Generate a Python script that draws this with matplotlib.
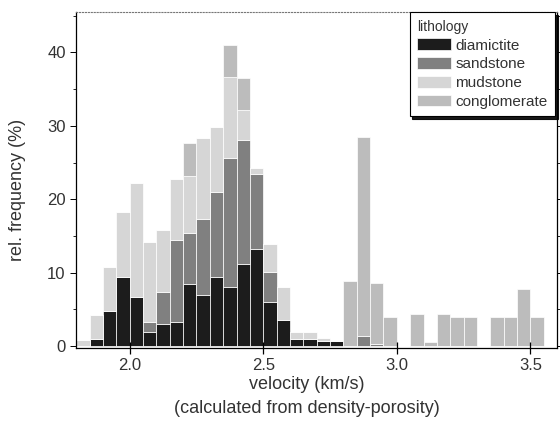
import matplotlib
matplotlib.use('Agg')
import matplotlib.pyplot as plt
import numpy as np
from matplotlib.ticker import MultipleLocator

plt.rcParams['font.family'] = ['Liberation Sans', 'DejaVu Sans']

# left edges of the 0.05 km/s velocity bins
bin_left = [1.80, 1.85, 1.90, 1.95, 2.00, 2.05, 2.10, 2.15, 2.20, 2.25,
            2.30, 2.35, 2.40, 2.45, 2.50, 2.55, 2.60, 2.65, 2.70, 2.75,
            2.80, 2.85, 2.90, 2.95, 3.00, 3.05, 3.10, 3.15, 3.20, 3.25,
            3.30, 3.35, 3.40, 3.45, 3.50]

# relative frequency (%) per lithology, stacked in this order
diamictite = [0, 1.0, 4.8, 9.4, 6.7, 1.95, 3.0, 3.3, 8.4, 6.9,
              9.4, 8.0, 11.1, 13.2, 6.0, 3.5, 0.95, 0.95, 0.7, 0.7,
              0, 0, 0, 0, 0, 0, 0, 0, 0, 0,
              0, 0, 0, 0, 0]
sandstone = [0, 0, 0, 0, 0, 1.35, 4.4, 11.1, 7.0, 10.4,
             11.6, 17.6, 17.0, 10.2, 4.1, 0, 0, 0, 0, 0,
             0, 1.3, 0.3, 0, 0, 0, 0, 0, 0, 0,
             0, 0, 0, 0, 0]
mudstone = [0.8, 3.2, 5.9, 8.8, 15.5, 10.9, 8.4, 8.4, 7.8, 11.0,
            8.9, 11.0, 4.0, 0.8, 3.8, 4.5, 1.0, 1.0, 0.35, 0,
            0, 0, 0, 0, 0, 0, 0, 0, 0, 0,
            0, 0, 0, 0, 0]
conglomerate = [0, 0, 0, 0, 0, 0, 0, 0, 4.4, 0,
                0, 4.4, 4.4, 0, 0, 0, 0, 0, 0, 0,
                8.8, 27.2, 8.3, 3.9, 0, 4.4, 0.5, 4.4, 3.9, 3.9,
                0, 3.9, 3.9, 7.8, 3.9]

series = [('diamictite', diamictite, '#1c1c1c'),
          ('sandstone', sandstone, '#808080'),
          ('mudstone', mudstone, '#d6d6d6'),
          ('conglomerate', conglomerate, '#bcbcbc')]

fig = plt.figure(figsize=(5.6, 4.34), dpi=100)
ax = fig.add_axes([0.136, 0.198, 0.859, 0.774])

bottom = np.zeros(len(bin_left))
for name, vals, col in series:
    ax.bar(bin_left, vals, width=0.05, bottom=bottom, align='edge',
           color=col, edgecolor='white', linewidth=0.5, label=name)
    bottom = bottom + np.array(vals)

ax.set_xlim(1.80, 3.60)
ax.set_ylim(-0.3, 45.5)
ax.set_xticks([2.0, 2.5, 3.0, 3.5])
ax.set_xticklabels(['2.0', '2.5', '3.0', '3.5'])
ax.yaxis.set_major_locator(MultipleLocator(10))
ax.yaxis.set_minor_locator(MultipleLocator(5))

txt = '#333333'
ax.tick_params(axis='x', direction='inout', length=9, width=0.9,
               labelsize=12, labelcolor=txt, pad=3)
ax.tick_params(axis='y', which='major', direction='out', length=4,
               width=0.7, labelsize=12, labelcolor=txt, right=True)
ax.tick_params(axis='y', which='minor', direction='out', length=2,
               width=0.6, right=True)
for sp in ['left', 'right', 'bottom']:
    ax.spines[sp].set_linewidth(0.9)
ax.spines['top'].set_linestyle(':')
ax.spines['top'].set_color('#777777')

ax.set_xlabel('velocity (km/s)\n(calculated from density-porosity)',
              fontsize=13, color=txt, linespacing=1.5)
ax.xaxis.set_label_coords(0.48, -0.084)
ax.xaxis.label.set_va('top')
ax.set_ylabel('rel. frequency (%)', fontsize=13, color=txt)
ax.yaxis.set_label_coords(-0.105, 0.47)

leg = ax.legend(title='lithology', loc='upper right',
                bbox_to_anchor=(0.996, 1.0), borderaxespad=0,
                fontsize=11, title_fontsize=10, alignment='left',
                fancybox=False, edgecolor='black', framealpha=1,
                shadow={'color': 'black', 'alpha': 0.9},
                handlelength=2.2, handleheight=0.8, labelspacing=0.3,
                handletextpad=0.3, borderpad=0.5)
leg.get_frame().set_linewidth(0.8)
for t in leg.get_texts():
    t.set_color(txt)
leg.get_title().set_color(txt)

fig.savefig('out.png', dpi=100)
